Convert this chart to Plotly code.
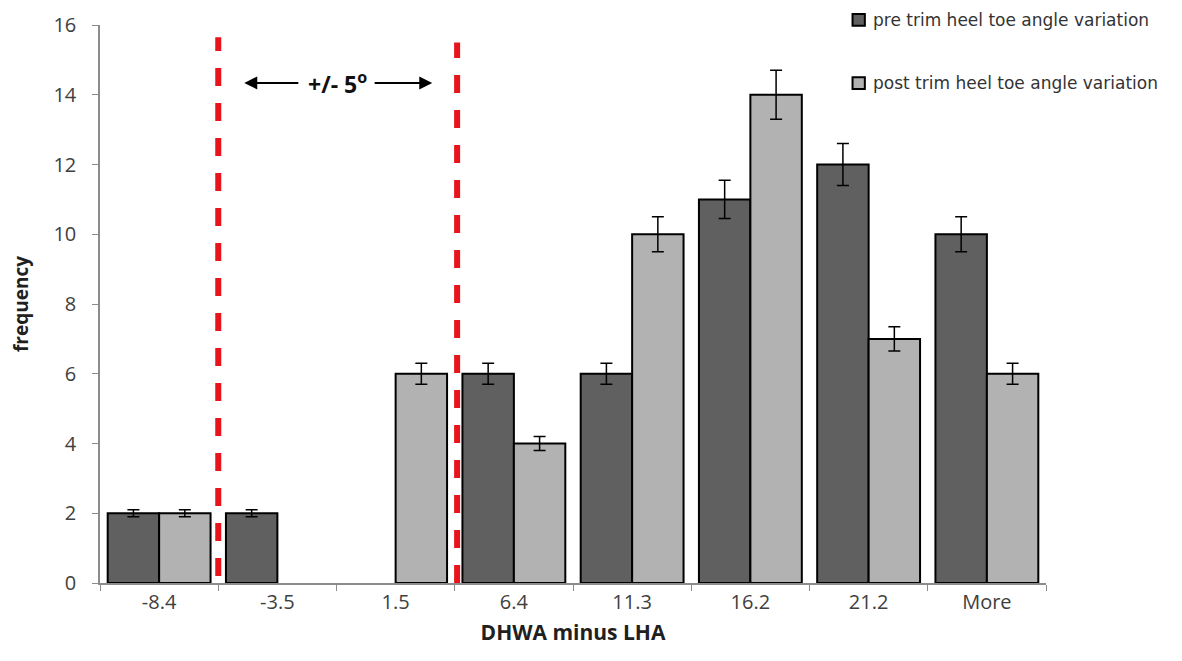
import plotly.graph_objects as go

categories = ["-8.4", "-3.5", "1.5", "6.4", "11.3", "16.2", "21.2", "More"]
pre_trim = [2, 2, 0, 6, 6, 11, 12, 10]
post_trim = [2, 0, 6, 4, 10, 14, 7, 6]
pre_err = [0.1, 0.1, 0, 0.3, 0.3, 0.55, 0.6, 0.5]
post_err = [0.1, 0, 0.3, 0.2, 0.5, 0.7, 0.35, 0.3]
y_ticks = [0, 2, 4, 6, 8, 10, 12, 14, 16]
series_names = ["pre trim heel toe angle variation", "post trim heel toe angle variation"]
series_colors = ["#606060", "#b2b2b2"]


def drawn(values):
    # empty bins are not drawn in the original chart
    return [v if v > 0 else None for v in values]


def drawn_err(values, errs):
    return [e if v > 0 else None for v, e in zip(values, errs)]


fig = go.Figure()
for vals, errs, name, col in zip([pre_trim, post_trim], [pre_err, post_err], series_names, series_colors):
    fig.add_trace(go.Bar(
        x=categories, y=drawn(vals), name=name,
        marker=dict(color=col, line=dict(color="#000000", width=2)),
        error_y=dict(type="data", array=drawn_err(vals, errs), color="#000000", thickness=1.5, width=6),
        showlegend=False,
    ))

# red dashed boundary lines (+/- 5 degrees)
fig.add_shape(type="line", xref="x", yref="y", x0=0.5, x1=0.5, y0=0.2, y1=15.65,
              line=dict(color="#e8141c", width=6, dash="18px,17px"))
fig.add_shape(type="line", xref="x", yref="y", x0=2.52, x1=2.52, y0=0, y1=15.5,
              line=dict(color="#e8141c", width=6, dash="18px,17px"))

fig.add_annotation(x=1.51, y=14.34, xref="x", yref="y", text="<b>+/- 5<sup>o</sup></b>",
                   showarrow=False, font=dict(size=23, color="#111111", family="Open Sans"))
fig.add_annotation(x=0.72, y=14.34, ax=1.19, ay=14.34, xref="x", yref="y", axref="x", ayref="y",
                   text="", showarrow=True, arrowhead=2, arrowsize=1.3, arrowwidth=2, arrowcolor="#000000")
fig.add_annotation(x=2.31, y=14.34, ax=1.81, ay=14.34, xref="x", yref="y", axref="x", ayref="y",
                   text="", showarrow=True, arrowhead=2, arrowsize=1.3, arrowwidth=2, arrowcolor="#000000")

# legend drawn as swatches + labels (paper coordinates)
legend_y = [1.009, 0.896]
for ly, name, col in zip(legend_y, series_names, series_colors):
    fig.add_shape(type="rect", xref="paper", yref="paper",
                  x0=0.7955, x1=0.8085, y0=ly - 0.0105, y1=ly + 0.0105,
                  fillcolor=col, line=dict(color="#000000", width=2))
    fig.add_annotation(x=0.8155, y=ly, xref="paper", yref="paper", xanchor="left", yanchor="middle",
                       text=name, showarrow=False,
                       font=dict(family="DejaVu Sans", size=17, color="#333333"))

fig.update_layout(
    width=1182, height=661,
    margin=dict(l=100, r=136, t=25, b=78, autoexpand=False),
    paper_bgcolor="white", plot_bgcolor="white",
    barmode="group", bargap=0.13, bargroupgap=0,
    font=dict(family="Open Sans", color="#404040"),
    showlegend=False,
)
fig.update_xaxes(
    type="category", showline=True, linecolor="#8c8c8c", linewidth=1.5,
    ticks="outside", ticklen=6, tickcolor="#8c8c8c", tickson="boundaries",
    tickfont=dict(size=20, color="#404040"),
    title=dict(text="<b>DHWA minus LHA</b>", font=dict(size=21, color="#202020"), standoff=12),
    showgrid=False, zeroline=False,
)
fig.update_yaxes(
    range=[0, 16], tickvals=y_ticks, showline=True, linecolor="#8c8c8c", linewidth=1.5,
    ticks="outside", ticklen=6, tickcolor="#8c8c8c",
    tickfont=dict(size=20, color="#404040"), ticklabelstandoff=12,
    title=dict(text="<b>frequency</b>", font=dict(size=19, color="#202020"), standoff=20),
    showgrid=False, zeroline=False,
)

fig.write_html("out.html")
